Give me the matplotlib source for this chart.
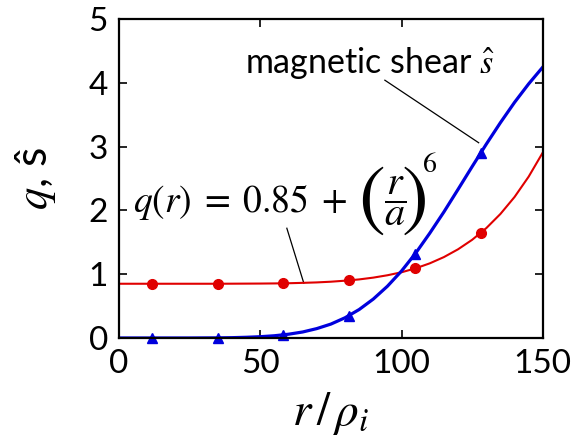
"""Safety factor q(r) and magnetic shear profiles versus r / rho_i."""
import matplotlib
matplotlib.use("Agg")
import matplotlib.pyplot as plt

plt.rcParams["font.family"] = ["Lato", "DejaVu Sans"]
plt.rcParams["mathtext.fontset"] = "stix"

# profile samples along the radius
r_line = [0, 5, 10, 15, 20, 25, 30, 35, 40, 45, 50, 55, 60, 65, 70, 75,
          80, 85, 90, 95, 100, 105, 110, 115, 120, 125, 130, 135, 140, 145, 150]
q_line = [0.85, 0.85, 0.85, 0.85, 0.85, 0.85, 0.85, 0.85, 0.851, 0.852,
          0.853, 0.855, 0.858, 0.864, 0.871, 0.882, 0.898, 0.918, 0.946,
          0.983, 1.030, 1.092, 1.170, 1.268, 1.390, 1.539, 1.722, 1.944,
          2.210, 2.529, 2.907]
s_line = [0.0, 0.0, 0.0, 0.0, 0.0, 0.0, 0.001, 0.002, 0.005, 0.011,
          0.020, 0.035, 0.059, 0.094, 0.147, 0.218, 0.317, 0.446, 0.610,
          0.811, 1.050, 1.329, 1.643, 1.976, 2.329, 2.687, 3.038, 3.375,
          3.693, 3.983, 4.246]

# simulation grid points
r_pts = [11.6, 34.9, 58.2, 81.5, 104.8, 128.1]
q_pts = [0.85, 0.85, 0.857, 0.903, 1.089, 1.649]
s_pts = [0.0, 0.002, 0.048, 0.352, 1.317, 2.906]

RED = "#e00000"
BLUE = "#0000dd"

fig = plt.figure(figsize=(5.75, 4.41), dpi=100)
ax = fig.add_axes([0.207, 0.2336, 0.737, 0.7234])

ax.plot(r_line, q_line, color=RED, lw=1.5, zorder=3)
ax.plot(r_pts, q_pts, "o", color=RED, ms=7, zorder=4, clip_on=False)
ax.plot(r_line, s_line, color=BLUE, lw=2.3, zorder=3)
ax.plot(r_pts, s_pts, "^", color=BLUE, ms=7, zorder=4, clip_on=False)

ax.set_xlim(0, 150)
ax.set_ylim(0, 5)
ax.set_xticks([0, 50, 100, 150])
ax.set_yticks([0, 1, 2, 3, 4, 5])
ax.tick_params(direction="in", length=6, width=1.2, labelsize=24,
               top=True, right=True, pad=8)
for sp in ax.spines.values():
    sp.set_linewidth(1.6)
    sp.set_zorder(5)

ax.set_xlabel(r"$r\,/\,\rho_i$", fontsize=34, labelpad=8)
ax.set_ylabel(r"$q$, ŝ", fontsize=32, labelpad=22)

ax.text(88.8, 4.15, r"magnetic shear $\hat{s}$", fontsize=24.5,
        ha="center", va="baseline")
ax.plot([94.1, 127.3], [4.04, 3.06], color="black", lw=0.9, zorder=2)

# q(r) formula: mathtext \left( does not grow enough, so the big
# parentheses are set as separate glyphs around the fraction
ax.text(4.9, 1.97, r"$q(r)\;=\;0.85\;+$", fontsize=27,
        ha="left", va="baseline")
ax.text(89.2, 2.16, r"$($", fontsize=58, ha="center", va="center")
ax.text(97.6, 2.14, r"$\dfrac{r}{a}$", fontsize=29, ha="center", va="center")
ax.text(104.3, 2.16, r"$)$", fontsize=58, ha="center", va="center")
ax.text(110.0, 2.72, r"$6$", fontsize=20, ha="center", va="center")
ax.plot([59.4, 65.4], [1.72, 0.86], color="black", lw=0.9, zorder=2)

fig.savefig("out.png", dpi=100)
